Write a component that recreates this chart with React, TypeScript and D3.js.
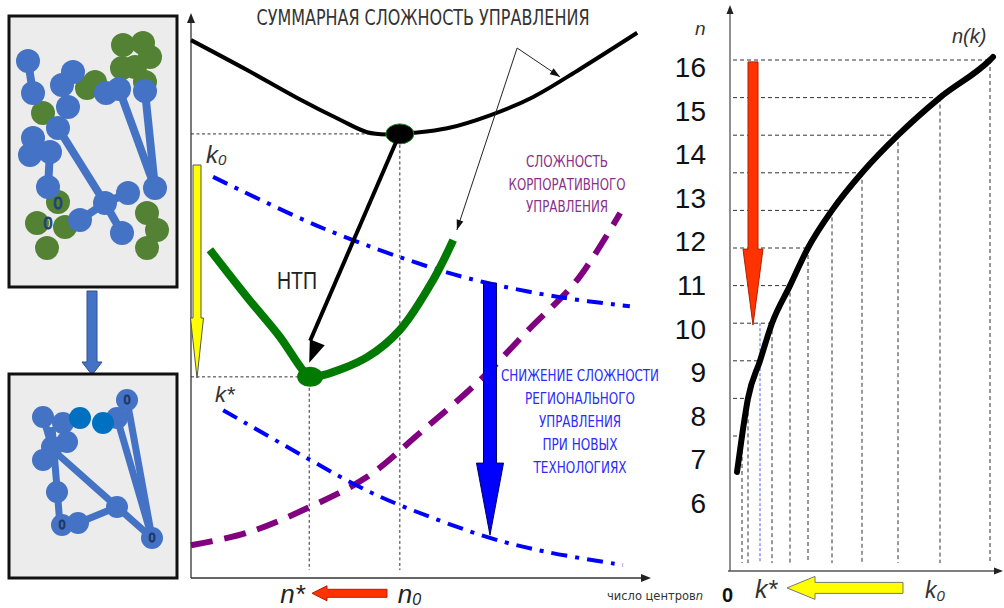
import React from 'react';
import * as d3 from 'd3';

type Pt = [number, number];
type Seg = [number, number, number, number];

// ---- left panel: network before / after (box-local units) ----
const BEFORE_GREEN: Pt[] = [
  [114, 29], [134, 27], [141, 41], [113, 52], [126, 51], [136, 66],
  [78, 72], [86, 66], [34, 97], [49, 186], [28, 207], [56, 211],
  [38, 232], [138, 197], [148, 214], [138, 232]
];
const BEFORE_BLUE: Pt[] = [
  [19, 45], [24, 77], [64, 56], [53, 69], [59, 91], [49, 112], [24, 122],
  [21, 139], [41, 136], [39, 171], [97, 77], [110, 73], [136, 75],
  [146, 172], [96, 187], [119, 177], [71, 204], [113, 217]
];
const BEFORE_EDGES: Seg[] = [
  [19, 45, 24, 77], [49, 112, 96, 187], [110, 73, 146, 172],
  [136, 75, 146, 172], [41, 136, 39, 171], [96, 187, 71, 204],
  [96, 187, 113, 217], [96, 187, 119, 177]
];
const BEFORE_ZEROS: Pt[] = [[49, 187], [39, 207]];

const AFTER_BLUE: Pt[] = [
  [34, 43], [54, 49], [58, 68], [43, 73], [34, 86], [48, 118], [53, 151],
  [69, 149], [108, 133], [118, 26], [108, 44], [143, 164]
];
const AFTER_DARK: Pt[] = [[71, 44], [94, 49]];
const AFTER_EDGES: Seg[] = [
  [43, 53, 51, 151], [44, 76, 143, 164], [118, 26, 143, 164],
  [108, 44, 143, 164], [69, 149, 108, 133], [34, 43, 43, 73]
];
const AFTER_ZEROS: Pt[] = [[118, 26], [53, 151], [143, 164]];

// ---- middle panel: complexity vs number of centres (0..100 units) ----
const TOTAL_CURVE: Pt[] = [
  [0, 95.2], [12.2, 89.9], [23.0, 85.0], [32.4, 81.1], [38.3, 78.9], [42.6, 78.5],
  [48.3, 78.8], [55.7, 79.6], [65.0, 81.9], [74.3, 85.1], [84.6, 90.1], [97.0, 96.5]
];
const NEW_CURVE: Pt[] = [
  [4.1, 58.1], [12.2, 49.7], [19.3, 42.7], [24.3, 36.8], [25.9, 35.6], [28.7, 35.9],
  [38.3, 39.1], [45.4, 43.9], [52.6, 52.7], [57.0, 59.8]
];
const K0_CURVE: Pt[] = [[4.8, 71.0], [28.7, 61.9], [52.0, 55.0], [63.5, 52.4], [80.2, 49.7], [95.4, 48.1]];
const KSTAR_CURVE: Pt[] = [[7.0, 29.7], [25.9, 20.9], [36.7, 16.1], [45.4, 12.9], [65.0, 7.1], [77.4, 4.6], [93.9, 2.3]];
const CORP_CURVE: Pt[] = [
  [0, 5.8], [12.2, 8.0], [25.9, 12.6], [38.3, 17.9], [49.8, 25.7], [62.8, 35.0],
  [73.7, 44.2], [83.9, 52.7], [93.3, 64.6]
];
const N0 = 45.4;
const N_STAR = 25.7;
const OPT_OLD: Pt = [45.4, 78.6];
const OPT_NEW: Pt = [25.9, 35.6];
const TITLE = 'СУММАРНАЯ СЛОЖНОСТЬ УПРАВЛЕНИЯ';
const CORP_LABEL = ['СЛОЖНОСТЬ', 'КОРПОРАТИВНОГО', 'УПРАВЛЕНИЯ'];
const CORP_WIDTHS = [82, 117, 82];
const REG_LABEL = ['СНИЖЕНИЕ СЛОЖНОСТИ', 'РЕГИОНАЛЬНОГО', 'УПРАВЛЕНИЯ', 'ПРИ НОВЫХ', 'ТЕХНОЛОГИЯХ'];
const REG_WIDTHS = [158, 110, 82, 75, 93];

// ---- right panel: n(k) ----
const N_TICKS = [16, 15, 14, 13, 12, 11, 10, 9, 8, 7, 6];
const N_GRID = [6, 7, 8, 9, 10, 11, 12, 13, 14, 15, 16];
const K_GRID = [1.2, 1.8, 3.0, 4.2, 6.0, 7.8, 10.2, 13.2, 16.8, 21.0, 26.0];
const NK_START: Pt = [0.7, 5.04];
const NK_END: Pt = [26.3, 16.08];
const K_STAR = 3.0;

const NARROW = "'Liberation Sans Narrow','DejaVu Sans Condensed','Liberation Sans',sans-serif";
const SANS = "'Liberation Sans',Arial,sans-serif";

function blockArrow(x1: number, y1: number, x2: number, y2: number, shaft: number, head: number, headLen: number) {
  const dx = x2 - x1, dy = y2 - y1, len = Math.hypot(dx, dy);
  const ux = dx / len, uy = dy / len, px = -uy, py = ux;
  const bx = x2 - ux * headLen, by = y2 - uy * headLen;
  const pts = [
    [x1 + px * shaft, y1 + py * shaft], [bx + px * shaft, by + py * shaft],
    [bx + px * head, by + py * head], [x2, y2],
    [bx - px * head, by - py * head], [bx - px * shaft, by - py * shaft],
    [x1 - px * shaft, y1 - py * shaft]
  ];
  return 'M' + pts.map(p => `${p[0].toFixed(1)},${p[1].toFixed(1)}`).join('L') + 'Z';
}

function headOnly(x1: number, y1: number, x2: number, y2: number, half: number, len: number) {
  const dx = x2 - x1, dy = y2 - y1, l = Math.hypot(dx, dy);
  const ux = dx / l, uy = dy / l, px = -uy, py = ux;
  const bx = x2 - ux * len, by = y2 - uy * len;
  return `M${x2},${y2}L${bx + px * half},${by + py * half}L${bx - px * half},${by - py * half}Z`;
}

function Network({ x, y, green, blue, dark, edges, zeros, r, w, zeroSize }: {
  x: d3.ScaleLinear<number, number>; y: d3.ScaleLinear<number, number>;
  green: Pt[]; blue: Pt[]; dark: Pt[]; edges: Seg[]; zeros: Pt[]; r: number; w: number; zeroSize: number;
}) {
  return (
    <g>
      {green.map((d, i) => <circle key={'g' + i} cx={x(d[0])} cy={y(d[1])} r={r} fill="#548235" />)}
      {edges.map((e, i) => (
        <line key={'e' + i} x1={x(e[0])} y1={y(e[1])} x2={x(e[2])} y2={y(e[3])} stroke="#4472c4" strokeWidth={w} />
      ))}
      {blue.map((d, i) => <circle key={'b' + i} cx={x(d[0])} cy={y(d[1])} r={r} fill="#4472c4" />)}
      {dark.map((d, i) => <circle key={'d' + i} cx={x(d[0])} cy={y(d[1])} r={r} fill="#0070c0" />)}
      {zeros.map((d, i) => (
        <text key={'z' + i} x={x(d[0])} y={y(d[1])} dy="0.35em" textAnchor="middle" fontFamily={SANS}
          fontSize={zeroSize} fill="#4472c4" stroke="#1f3864" strokeWidth={1}>0</text>
      ))}
    </g>
  );
}

export default function App() {
  // left
  const topX = d3.scaleLinear().domain([0, 168]).range([9, 177]);
  const topY = d3.scaleLinear().domain([0, 271]).range([16, 287]);
  const botX = d3.scaleLinear().domain([0, 168]).range([9, 177]);
  const botY = d3.scaleLinear().domain([0, 204]).range([374, 578]);

  // middle
  const x = d3.scaleLinear().domain([0, 100]).range([191, 651]);
  const y = d3.scaleLinear().domain([0, 100]).range([578, 13]);
  const line = d3.line<Pt>().x(d => x(d[0])).y(d => y(d[1])).curve(d3.curveCatmullRom.alpha(0.5));

  // right
  const k = d3.scaleLinear().domain([0, 27]).range([730, 1000]);
  const n = d3.scaleLinear().domain([6, 16]).range([436, 60]);
  const tickY = d3.scaleLinear().domain([6, 16]).range([503, 67]);
  const nkPts: Pt[] = [NK_START, ...K_GRID.map((kv, i) => [kv, N_GRID[i]] as Pt), NK_END];
  const nkLine = d3.line<Pt>().x(d => k(d[0])).y(d => n(d[1])).curve(d3.curveMonotoneX);
  const axisN = 2.41;
  const gridFloor = 2.62;

  const ptrFrom: Pt = [70.9, 93.8];
  const ptrA: Pt = [80.2, 88.7];
  const ptrB: Pt = [57.8, 61.6];

  return (
    <svg width={1004} height={608} style={{ position: 'absolute', left: 0, top: 0, background: '#fff' }}>
      {/* ---------- left panel ---------- */}
      <rect x={9} y={16} width={168} height={271} fill="#ececec" stroke="#111" strokeWidth={3} />
      <Network x={topX} y={topY} green={BEFORE_GREEN} blue={BEFORE_BLUE} dark={[]} edges={BEFORE_EDGES}
        zeros={BEFORE_ZEROS} r={12} w={8} zeroSize={16} />
      <path d={blockArrow(92, 291, 92, 375, 5, 10, 13)} fill="#4472c4" stroke="#2f528f" strokeWidth={1} />
      <rect x={9} y={374} width={168} height={204} fill="#ececec" stroke="#111" strokeWidth={3} />
      <Network x={botX} y={botY} green={[]} blue={AFTER_BLUE} dark={AFTER_DARK} edges={AFTER_EDGES}
        zeros={AFTER_ZEROS} r={11} w={7} zeroSize={12} />

      {/* ---------- middle panel ---------- */}
      <g stroke="#333" strokeWidth={1.3}>
        <line x1={x(0)} y1={y(0)} x2={x(0)} y2={y(100) + 6} />
        <line x1={x(0)} y1={y(0)} x2={x(100) - 6} y2={y(0)} />
      </g>
      <path d={headOnly(x(0), y(50), x(0), y(100), 4, 10)} fill="#222" />
      <path d={headOnly(x(50), y(0), x(100), y(0), 4, 10)} fill="#222" />

      <text x={423} y={25} textAnchor="middle" fontFamily={NARROW} fontSize={21} fill="#333"
        textLength={333} lengthAdjust="spacingAndGlyphs">{TITLE}</text>

      {/* guide lines */}
      <g stroke="#333" strokeWidth={1} strokeDasharray="3 2.5" fill="none">
        <line x1={x(0)} y1={y(OPT_OLD[1])} x2={x(OPT_OLD[0])} y2={y(OPT_OLD[1])} />
        <line x1={x(N0)} y1={y(OPT_OLD[1])} x2={x(N0)} y2={y(1.4)} />
        <line x1={x(0)} y1={y(OPT_NEW[1])} x2={x(OPT_NEW[0])} y2={y(OPT_NEW[1])} />
        <line x1={x(N_STAR)} y1={y(OPT_NEW[1])} x2={x(N_STAR)} y2={y(1.4)} />
      </g>

      <path d={line(CORP_CURVE) || ''} fill="none" stroke="#800080" strokeWidth={6} strokeDasharray="22 12" />
      <path d={line(K0_CURVE) || ''} fill="none" stroke="#0000ff" strokeWidth={4} strokeDasharray="16 8 4 8" />
      <path d={line(KSTAR_CURVE) || ''} fill="none" stroke="#0000ff" strokeWidth={4} strokeDasharray="16 8 4 8" />
      <path d={line(TOTAL_CURVE) || ''} fill="none" stroke="#000" strokeWidth={4} />
      <path d={line(NEW_CURVE) || ''} fill="none" stroke="#007a00" strokeWidth={8} strokeLinecap="butt" />

      <ellipse cx={x(OPT_OLD[0])} cy={y(OPT_OLD[1])} rx={14} ry={10} fill="#000" stroke="#1a8a1a" strokeWidth={1} />
      <ellipse cx={x(OPT_NEW[0])} cy={y(OPT_NEW[1])} rx={13} ry={10} fill="#007a00" />

      {/* НТП shift arrow */}
      <line x1={x(44.6)} y1={y(77.2)} x2={x(25.9)} y2={y(42.0)} stroke="#000" strokeWidth={4} />
      <path d={headOnly(x(44.6), y(77.2), x(25.7), y(38.1), 8, 22)} fill="#000" />
      <text x={297} y={289} textAnchor="middle" fontFamily={SANS} fontSize={23} fill="#222"
        textLength={40} lengthAdjust="spacingAndGlyphs">НТП</text>

      {/* thin pointers */}
      <g stroke="#222" strokeWidth={1} fill="none">
        <line x1={x(ptrFrom[0])} y1={y(ptrFrom[1])} x2={x(ptrA[0])} y2={y(ptrA[1])} />
        <line x1={x(ptrFrom[0])} y1={y(ptrFrom[1])} x2={x(ptrB[0])} y2={y(ptrB[1])} />
      </g>
      <path d={headOnly(x(ptrFrom[0]), y(ptrFrom[1]), x(ptrA[0]), y(ptrA[1]), 3.5, 10)} fill="#111" />
      <path d={headOnly(x(ptrFrom[0]), y(ptrFrom[1]), x(ptrB[0]), y(ptrB[1]), 3.5, 10)} fill="#111" />

      {/* block arrows */}
      <path d={blockArrow(x(1.3), y(73.1), x(1.3), y(35.4), 4, 6.5, 60)} fill="#ffff00" stroke="#555" strokeWidth={1} />
      <path d={blockArrow(x(65.0), y(52.2), x(65.0), y(7.6), 6.5, 13.5, 72)} fill="#0000ff" stroke="#000060" strokeWidth={1} />
      <path d={blockArrow(x(42.6), y(-2.7), x(26.3), y(-2.7), 4, 7.5, 15)} fill="#ff3300" stroke="#b02000" strokeWidth={1} />

      {/* labels */}
      <text x={206} y={163} fontFamily={SANS} fontStyle="italic" fontSize={24} fill="#333">
        k<tspan fontSize={15} dy={2}>0</tspan>
      </text>
      <text x={215} y={402} fontFamily={SANS} fontStyle="italic" fontSize={22} fill="#333">k*</text>
      <text x={x(N_STAR) - 29} y={603} fontFamily={SANS} fontStyle="italic" fontSize={26} fill="#222">n*</text>
      <text x={x(N0) - 2} y={603} fontFamily={SANS} fontStyle="italic" fontSize={26} fill="#222">
        n<tspan fontSize={16} dy={2}>0</tspan>
      </text>
      <text x={607} y={600} fontFamily={NARROW} fontSize={13} fill="#333" textLength={96} lengthAdjust="spacingAndGlyphs">
        число центров<tspan fontStyle="italic">n</tspan>
      </text>

      {CORP_LABEL.map((t, i) => (
        <text key={t + i} x={567} y={167 + i * 22.5} textAnchor="middle" fontFamily={NARROW} fontSize={15}
          fill="#8b2f8b" textLength={CORP_WIDTHS[i]} lengthAdjust="spacingAndGlyphs">{t}</text>
      ))}
      {REG_LABEL.map((t, i) => (
        <text key={t + i} x={580} y={381 + i * 23} textAnchor="middle" fontFamily={NARROW} fontSize={16}
          fill="#2a2aff" textLength={REG_WIDTHS[i]} lengthAdjust="spacingAndGlyphs">{t}</text>
      ))}

      {/* ---------- right panel ---------- */}
      <g stroke="#333" strokeWidth={1} strokeDasharray="4 3" fill="none">
        {K_GRID.map((kv, i) => (
          <g key={'gr' + i}>
            <line x1={k(0.3)} y1={n(N_GRID[i])} x2={k(kv)} y2={n(N_GRID[i])} />
            {kv !== K_STAR && <line x1={k(kv)} y1={n(N_GRID[i])} x2={k(kv)} y2={n(gridFloor)} />}
          </g>
        ))}
      </g>
      <line x1={k(K_STAR)} y1={n(9)} x2={k(K_STAR)} y2={n(gridFloor)} stroke="#4a5cff" strokeWidth={1}
        strokeDasharray="3 2" />
      <g stroke="#555" strokeWidth={1.3}>
        <line x1={k(0)} y1={n(axisN)} x2={k(0)} y2={n(17.3)} />
        <line x1={k(-0.2)} y1={n(axisN)} x2={k(27.0)} y2={n(axisN)} />
      </g>
      <path d={headOnly(k(0), n(10), k(0), n(17.46), 3.5, 9)} fill="#222" />
      <path d={headOnly(k(10), n(axisN), k(27.3), n(axisN), 3.5, 9)} fill="#222" />

      <path d={nkLine(nkPts) || ''} fill="none" stroke="#000" strokeWidth={6} strokeLinecap="round" />

      <path d={blockArrow(k(2.3), n(15.95), k(2.3), n(8.95), 5, 10, 76)} fill="#ff3300" stroke="#b02000" strokeWidth={1} />
      <path d={blockArrow(k(17.3), n(1.96), k(5.7), n(1.96), 5.5, 11.5, 28)} fill="#ffff00" stroke="#777" strokeWidth={1} />

      {N_TICKS.map(t => (
        <text key={'t' + t} x={706} y={tickY(t)} dy="0.36em" textAnchor="end" fontFamily={SANS} fontSize={28} fill="#111">{t}</text>
      ))}
      <text x={695} y={35} fontFamily={SANS} fontStyle="italic" fontSize={19} fill="#333">n</text>
      <text x={952} y={43} fontFamily={SANS} fontStyle="italic" fontSize={20} fill="#333">n(k)</text>
      <text x={722} y={602} fontFamily={SANS} fontWeight="bold" fontSize={20} fill="#111">0</text>
      <text x={755} y={598} fontFamily={SANS} fontStyle="italic" fontSize={25} fill="#333">k*</text>
      <text x={925} y={598} fontFamily={SANS} fontStyle="italic" fontSize={23} fill="#333">
        k<tspan fontSize={15} dy={3}>0</tspan>
      </text>
    </svg>
  );
}
